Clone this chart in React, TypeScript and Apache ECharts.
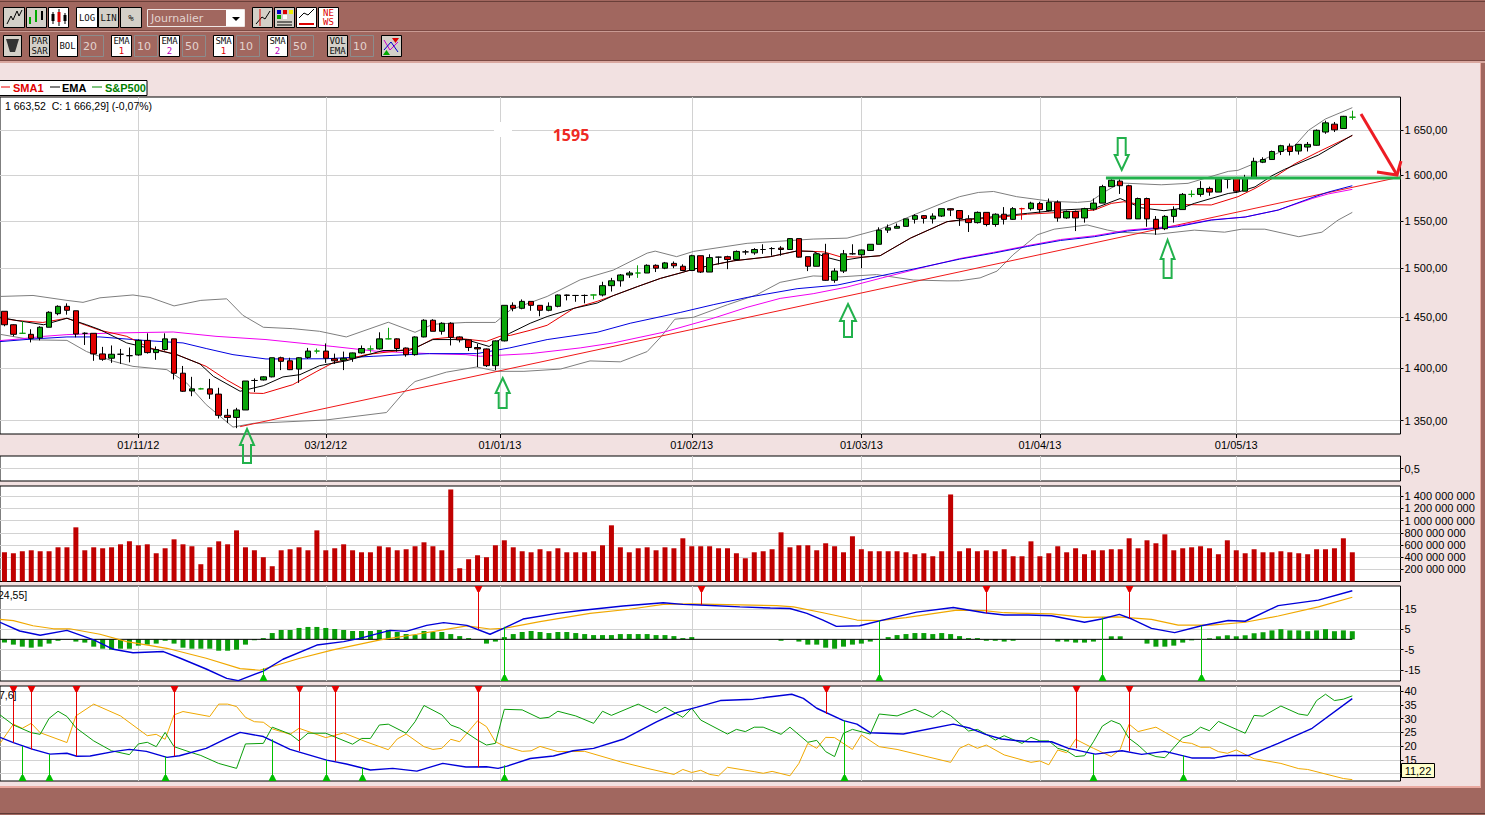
import React, { useEffect, useRef } from "react";
import * as echarts from "echarts";

type Pt = [number, number];

// ---------- candles (index 0 = first visible session) ----------
const opens = [
1456,1442.5,1434,1433,1429.5,1440,1453.6,1461,1456.5,1434,
1434,1413.7,1409.5,1413.4,1412,1412.7,1427,1415,1418,1428.5,
1395,1378,1380,1380,1375,1355,1353,1360,1388,1388.5,
1391.5,1410,1407,1399,1410.3,1416.5,1416.5,1409,1407.5,1409.5,
1414.7,1418.6,1418.6,1428.5,1428.5,1419.5,1413,1430.4,1447,1436,
1444,1430.4,1427.5,1420,1418.6,1402.3,1426.5,1462,1459,1466,
1462,1457,1461,1472.5,1472,1472,1472.5,1472.5,1482,1487,
1493,1495,1495,1503,1500,1505,1502,1497.6,1513,1496,
1511.5,1512,1509,1517,1516,1519.5,1520.5,1521,1519.5,1531,
1512,1502,1515,1487.5,1497,1515,1514,1518.5,1525,1540,
1542,1544,1551.5,1555.5,1552,1555,1563,1561,1552,1548,
1559,1546,1557,1551.5,1563,1563,1568.5,1561,1570,1553,
1560,1553,1562.5,1569,1587,1593,1588,1552,1574,1551.5,
1541.5,1554.7,1562,1578.5,1578.5,1585,1581,1595,1596,1582,
1596,1614,1617,1626,1632,1626.5,1631,1633,1648,1657,
1652,1665];
const closes = [
1442.5,1433,1434,1429,1440,1455,1461,1457,1433.3,1434,
1413.7,1408.5,1413.4,1413.4,1412,1427,1415,1418,1428.5,1394.9,
1377.7,1380,1380,1375,1355,1353,1360,1387.5,1388,1391.5,
1410,1406.5,1398.4,1410,1416.5,1416.5,1409.5,1407,1409.5,1414.7,
1419,1418.6,1428.5,1428.5,1419,1413,1430.4,1447,1436,1444,
1430,1427.5,1420,1418.6,1402.3,1426.5,1462,1459,1466,1462,
1457,1461,1472.5,1472,1472,1472,1472.5,1482,1487,1493,
1495,1495,1503,1500,1505.5,1502.5,1497.6,1513,1496,1511,
1511.5,1509,1517.5,1517,1519.5,1519.5,1520.5,1519.5,1531,1511.5,
1502,1515,1487.5,1497,1515,1515,1519,1525,1540,1542.5,
1544,1552,1555.5,1552.5,1555,1563,1561.5,1552.5,1548,1559,
1546,1557,1551.5,1563,1563,1569,1562,1570,1553,1560,
1553,1563,1569,1587,1594,1588,1552,1574,1552,1541.5,
1554.7,1562,1578.5,1578.5,1585,1581,1595.5,1595,1582,1596,
1615,1617,1626,1632.5,1626,1634,1634,1650,1658.5,1650.5,
1666,1665];
const highs = [
1456,1443,1446,1438,1441,1456,1462,1464,1456.5,1435,
1434,1420.6,1422,1418.6,1420,1428,1434,1421,1434,1428.5,
1402,1391.5,1381,1389.5,1381,1361,1362,1387.5,1390,1392,
1410,1411,1410,1410.5,1419.6,1419,1424,1414,1416,1415,
1422,1422,1435,1439.5,1429,1420,1431,1448,1448,1445,
1445,1431,1428,1423.6,1419,1427,1462,1465,1468,1466,
1462,1465,1473,1473,1472.5,1473,1473,1486,1490,1494,
1497,1503,1504,1504,1506.5,1507,1504,1514,1513,1514.5,
1512,1513,1518.5,1519,1521,1525,1522,1523,1531.5,1531,
1512,1516,1525.5,1500,1519,1525,1519.5,1525,1543,1546,
1547,1552,1557,1556,1558,1563,1563.5,1561,1556,1560,
1559,1558,1564.7,1564.7,1564,1570.5,1570.5,1574,1572,1561,
1561,1564,1574,1589,1595,1595,1589,1575,1575,1555,
1556,1565.5,1580,1583,1593,1587,1596,1596,1596,1600,
1619,1619.5,1627,1633.5,1635,1634.5,1636.7,1651,1661,1659.5,
1666.5,1672.5];
const lows = [
1441,1431,1434,1425,1427,1440,1452,1452.6,1430,1422.5,
1407,1407,1405,1404,1405.5,1412,1414,1408,1417,1389,
1377,1373,1379.5,1370.4,1352,1347.7,1343,1360,1377,1388,
1391,1398,1398,1385.7,1409,1414,1405,1404,1398,1406,
1414,1415,1418,1428,1416,1411,1412,1430,1436,1432.7,
1422,1425,1416.5,1401,1401,1398,1426,1456,1458,1456.5,
1451,1456,1460,1467,1465.6,1464,1468,1471,1476,1481,
1490,1490,1495,1496,1499,1500,1497,1497,1495,1496,
1504,1499,1508,1514,1514,1515,1513,1513,1519,1511,
1497,1502,1487,1485,1495,1514,1500,1518,1525,1537,
1542,1544,1547,1547,1547,1554,1555,1544.5,1538,1547,
1544,1543.6,1546,1551,1551,1561,1558.6,1560,1549,1552,
1539,1548,1561,1569,1587,1579,1552,1552,1543.6,1535,
1540,1548,1562,1575.5,1576,1577,1581,1585,1580,1582,
1596,1613,1617,1622,1621.5,1622.5,1626,1632.5,1646,1648,
1652,1662];
const greenDojis = [2, 22, 35, 41, 43, 66, 71, 133, 151];
const redDojis = [114];

// ---------- price overlays: [session index, price] ----------
const bollUpper: Pt[] = [[-0.5,1471],[3.2,1472],[7,1467],[8.8,1465],[10.7,1469.6],[14.4,1472.5],[16.3,1470],[19,1461.4],[22,1467],[24.9,1468.6],[26.7,1452],[29,1440],[32.3,1438.6],[35.3,1436],[38.3,1430.4],[43,1445],[46,1435],[48,1443],[51.7,1444.8],[55,1444.8],[56.7,1457.5],[60.8,1471],[64.5,1488],[68.2,1498],[72,1515.7],[72.9,1517.8],[75.3,1512],[77.2,1517.5],[83.2,1526],[90.6,1530.5],[94.4,1531.5],[98.1,1541],[101.8,1556],[105.6,1571],[107,1576],[109.1,1580.6],[110.8,1581.7],[113.4,1576],[117.2,1571],[120.2,1569.8],[121.7,1571],[123.2,1581],[125,1591],[129.6,1589],[132.6,1590.6],[137.1,1603.8],[138.2,1605],[140,1612.4],[144.6,1633],[146.1,1650],[148,1663],[151,1676]];
const bollLower: Pt[] = [[-0.5,1433],[3.2,1427.5],[7,1427],[9.2,1416],[12.2,1406.5],[14.4,1401.6],[18.2,1398.4],[20.4,1385.7],[22.6,1365],[25.6,1344],[27.9,1347.5],[36,1350.6],[42.8,1357.6],[45.2,1381],[46,1387],[49.5,1396],[52.9,1401],[55.2,1396.8],[58.2,1396.8],[62.3,1399],[65.6,1406.9],[69,1406],[72,1416],[73.6,1431],[75.1,1448],[77.2,1450],[81,1462.6],[84.3,1472.8],[86.9,1485.4],[90.6,1492],[93.6,1491],[97.7,1493.4],[101.8,1487.8],[105.6,1486.9],[107,1487],[109.3,1490],[111.2,1497],[113,1514],[115.7,1535],[117.6,1541],[121.3,1545.5],[123.6,1540],[125,1537.8],[129.2,1535.7],[133.3,1540],[136.7,1537.8],[138.6,1541],[141.2,1541],[145,1533],[147.6,1537.8],[149.4,1550.7],[151,1559]];
const sma1: Pt[] = [[-0.5,1449],[1.4,1446.7],[4.3,1444.8],[7,1449],[8.5,1444],[10.7,1437],[13.7,1431],[16.3,1419.6],[19.3,1413],[22.6,1401.6],[24.9,1388.5],[27.5,1376],[29,1375.6],[32.3,1384],[35,1396.8],[36.8,1405],[40.5,1413],[44.3,1417],[46.1,1419.6],[48,1428.4],[49.9,1430],[54,1426],[55.5,1431],[56.7,1432],[58.9,1437],[60.8,1442],[63.8,1459],[66.4,1466],[68.2,1471.8],[70.9,1481],[73.5,1489.5],[75.7,1495],[77.2,1499],[79.4,1503.5],[81.7,1507.7],[85.8,1512],[88.8,1518],[90.6,1517.5],[91.8,1517],[93.6,1512],[96.2,1511.5],[98.1,1513],[101.5,1531.5],[105.6,1549],[107,1550.7],[110.8,1553],[114.6,1557],[118.3,1559],[122.1,1561.5],[124,1568.7],[125.4,1570.5],[127.3,1567.6],[131.1,1567.6],[135.2,1567],[138.2,1576],[140.1,1585],[142,1595.7],[144.6,1612.4],[147.2,1625.6],[151,1644]];
const ema1: Pt[] = [[-0.5,1450],[1.4,1446.7],[4.4,1442.5],[7,1449],[9.2,1442.5],[10.7,1437.6],[13.7,1424.5],[16.3,1419],[19.3,1413],[21.9,1404],[23.4,1392],[26.4,1377.7],[29,1383],[31.2,1391.4],[33.1,1393.6],[35.3,1402.3],[38.3,1407],[42.4,1417],[45.4,1417.3],[48,1427.8],[51.7,1427.8],[54.3,1421],[56.6,1434],[58.9,1444],[60.8,1450.7],[63.8,1459],[66.4,1464.3],[68.2,1471.8],[70.9,1481],[73.5,1489.5],[75.7,1495],[77.2,1499],[79.4,1503.5],[81.7,1507.7],[85.8,1512],[88.8,1518],[90.6,1517.5],[91.8,1512],[93.6,1507.7],[96.2,1511.5],[98.1,1513],[101.5,1531.5],[105.6,1549],[107,1550.7],[110.8,1554.3],[114.6,1558],[118.3,1561.5],[122.1,1563.3],[125,1574],[127.3,1564],[129.9,1560.8],[131.8,1563.3],[133.3,1568.7],[137.1,1579.5],[138.2,1581],[140.1,1586.7],[142,1599],[143.4,1606],[147.2,1622],[151,1644.4]];
const ema2: Pt[] = [[-0.5,1425.8],[3.2,1428.4],[7,1430.4],[10.7,1430.4],[15.9,1426.8],[20,1424.5],[22.6,1419],[25.6,1413],[29.3,1408.8],[36,1409],[41.3,1411.4],[47.6,1414],[52.9,1414],[56.6,1419.6],[60.8,1427.8],[66.4,1435],[70.1,1444],[75.7,1454.8],[79.4,1462.6],[83.2,1470],[88.8,1478.9],[93.3,1482.6],[98.1,1492],[101.8,1499],[107,1509.4],[110.8,1515.7],[114.6,1522.7],[118.3,1529],[122.1,1533],[125.8,1539],[128.8,1541.5],[131.4,1543.6],[135.2,1550.7],[139,1554],[142.7,1561.5],[146.5,1575],[148.3,1581],[151,1588]];
const sma2: Pt[] = [[-0.5,1426.8],[1.7,1428.4],[4.4,1431],[7,1432.7],[12.2,1434.3],[18.9,1435.3],[23.7,1431],[29.3,1427.8],[36.8,1421],[41.7,1416.3],[47.6,1414],[51.7,1413],[53.3,1411.4],[58.9,1414],[64.5,1419.6],[68.2,1424.5],[73.8,1435],[79.4,1449],[83.2,1460],[86.9,1469],[90.6,1473.8],[94.4,1480.6],[98.1,1489.5],[103.3,1501.7],[107,1510],[110.8,1516.5],[114.6,1523.5],[118.3,1530],[122.1,1534],[125.8,1540],[128.8,1542.4],[131.4,1544.6],[135.2,1551],[139,1554],[142.7,1561.5],[146.5,1574],[148.3,1579],[151,1584]];
const trendLine: Pt[] = [[26.4,1344.4],[156.4,1597.6]];
const resistanceLine: Pt[] = [[123.4,1596.5],[156.4,1596.5]];

// ---------- volume (millions of shares) ----------
const volumesM = [
480,464,497,513,497,497,562,562,890,513,
562,546,562,611,660,595,611,464,546,693,
611,579,284,562,660,611,840,562,513,399,
251,513,530,562,513,840,513,546,611,513,
480,480,579,562,513,530,579,644,579,513,
1512,218,366,431,399,595,677,562,497,480,
530,497,546,480,480,480,497,595,923,562,
480,546,562,513,562,546,710,579,579,579,
546,546,464,382,480,497,530,808,562,595,
595,513,628,579,480,743,530,497,497,497,
497,480,448,464,415,497,1430,497,546,497,
513,497,530,415,415,660,415,464,579,480,
546,448,513,513,530,530,710,546,677,628,
775,513,546,562,579,546,448,677,513,464,
530,480,480,497,480,464,448,530,530,546,
710,480];

// ---------- MACD ----------
const macdHist = [
-1.6,-2.6,-3.6,-4.1,-3.6,-2.1,-0.7,0,-1.1,-1.6,
-3.6,-4.6,-5.1,-4.6,-4.6,-3.1,-2.6,-2.1,-0.7,-2.1,
-4.1,-4.6,-4.6,-4.6,-5.6,-5.6,-5.1,-2.6,-0.5,0.6,
3.1,4.6,4.6,5.6,6.1,6.1,5.6,5.1,4.6,4.1,
4.1,4.1,4.6,4.6,3.6,2.6,2.1,4.1,3.6,3.6,
2.6,1.6,0.6,0,-2.1,-1.1,1.1,2.6,3.6,4.1,
3.6,3.1,3.6,3.6,3.1,2.6,2.1,2.1,2.1,2.6,
2.6,2.6,2.6,2.1,2.1,1.6,0.6,1.1,0,0,
0,0,0,0,0,0,0,-0.7,0,-1.1,
-2.6,-2.6,-4.1,-4.6,-3.6,-2.6,-2.1,-1.1,0,1.1,
2.1,2.6,3.1,3.1,2.6,3.1,2.6,1.6,0.6,0.6,
-0.7,-0.7,-1.1,-0.7,0,0,0,0,-1.1,-1.1,
-1.6,-1.6,-1.1,0,1.5,1.5,0,0,-2.1,-3.6,
-3.6,-3.1,-1.6,-0.5,0,0.5,1.5,2,1.5,2,
3,3.5,4.4,5,4.4,4.4,4,4.4,5,4,
4.4,4];
const macdLine: Pt[] = [[-0.5,8.4],[1.7,4.1],[4,2],[7,4.4],[10,-0.3],[12.2,-4.9],[14.4,-6.6],[17.8,-6],[19.7,-9.3],[22.6,-14.6],[24.9,-19.2],[26.2,-20.3],[29,-15.6],[31.2,-9.8],[35,-2.8],[38,-1.1],[39.8,0.5],[43.2,4.4],[45,3.9],[47.3,6.9],[49.2,8.2],[51.8,6.9],[54.4,2.5],[55.9,5.4],[58.1,10],[61.9,12.8],[64.8,14.3],[69.3,16.4],[73.8,18],[76,17.2],[77.9,16.9],[82.4,16],[85.8,15.4],[88,15.2],[89.9,12.8],[91.7,9.5],[93.2,6.4],[95.8,6.7],[99.2,10.3],[102.2,13.4],[106.3,15.7],[109.8,13.1],[112,12],[114.7,12],[117.3,11.6],[121,8.4],[122.9,10],[124.9,12.3],[126.3,10],[128.5,5.4],[131.1,3.3],[134.1,6.7],[137.1,9.3],[139,8.9],[142.7,16.6],[147.2,19.3],[151,23.9]];
const macdSignal: Pt[] = [[-0.5,9.8],[1,9.2],[3.2,6.7],[5.5,5.2],[7.3,5.2],[10.7,2.5],[13.7,-1.1],[18.2,-4.4],[22.6,-9.3],[26.4,-14.4],[28.6,-15.2],[33.1,-9.3],[36.8,-5.2],[42.1,-0.3],[46.2,2.5],[51.8,6.6],[54.4,5.1],[55.9,5.4],[60,8.7],[65.6,12.8],[70,14.8],[73.8,17.2],[76.8,17.5],[82.4,17],[86.5,16.6],[88.4,16],[91.7,13.1],[95.5,9.5],[98,9.2],[101,10.7],[106.7,14.4],[109.8,14.1],[112,13.1],[117.3,12.5],[121,10.8],[124.7,11.1],[128.5,9.8],[131.5,7],[135.2,7],[139,8.4],[142.7,11.5],[147.2,16],[151,20.7]];
const macdZero: Pt[] = [[-0.5,0],[151,0]];
const macdSellPins: Pt[] = [[53,5],[78,16.9],[110,12.8],[126,10.3]];
const macdBuyPins: Pt[] = [[29,-14.3],[56,6.2],[98,9.2],[123,10.7],[134,6.7]];

// ---------- ADX / DI ----------
const adxLine: Pt[] = [[-0.5,23.2],[1,21.3],[3.2,18.8],[5.1,17.1],[7,17.4],[8.1,16.3],[9.6,16.4],[12.2,18],[14,18.8],[15.9,18.1],[18.2,15.9],[19.6,16.5],[22.6,19.2],[24.9,22.8],[26.4,25],[29,23.5],[32,18.8],[36.1,14.9],[38.3,13.5],[41,11.3],[43.5,11.9],[46.2,10.9],[49.1,13.7],[51.7,12.4],[54,12.5],[55.3,11.9],[56.3,12.7],[58.9,15.5],[61.5,16.4],[63.7,18.3],[66,19.2],[69.3,22.5],[73.1,28.9],[75.3,32.2],[77.6,34.2],[80.2,36.6],[83.9,37.1],[85.4,37.8],[88.2,38.9],[89.5,37.4],[91,33.8],[94,29.3],[95.5,28],[97,24.9],[100.7,24.4],[106.3,28],[108.2,26.5],[109.9,24.3],[111.7,22.6],[114.7,21.6],[117.3,21.6],[119.2,19.2],[122.2,17.1],[125.2,18.3],[127.4,17],[130,18.1],[133,15.7],[135.6,15.7],[137.1,16.6],[139.4,16.6],[142.7,21],[146.5,26.5],[151,37.3]];
const diPlus: Pt[] = [[-0.5,31.4],[1,27.7],[3,24.9],[4,24.3],[5,30.1],[6,32.7],[7,30.8],[8,26.7],[10,21.9],[12,18.3],[14,16.9],[15,20.8],[16,21.4],[17,19.8],[18,25],[19,19.8],[21,17.6],[22,16.6],[24,13.7],[26,11.9],[27,20.8],[29,21],[30,26.9],[32,24.4],[33,21.9],[34,24.7],[36,24.7],[39,20.7],[40,22.8],[41,22.8],[42,27.7],[43,28],[45,24.7],[46,28.9],[47,34.8],[49,31.4],[50,27.7],[51,26.5],[53,22.2],[54,20.4],[55,21],[56,33.4],[58,33.2],[60,30.1],[61,30.5],[62,32.7],[64,31],[66,28.3],[67,32.7],[68,31.2],[71,35.3],[73,32.2],[74,34.2],[76,30.5],[77,33.8],[78,29.5],[81,24.4],[82,26.1],[83,25.3],[84,26.9],[85,26.9],[87,24.3],[88,26.9],[90,21.4],[91,22.1],[92,18],[93,16.2],[94,24.7],[95,26.1],[97,24.4],[98,31.7],[100,31],[102,33.4],[104,30.5],[105,32.9],[106,31.1],[108,25.5],[109,26.1],[110,24.3],[111,22.2],[112,23.8],[114,21],[115,23.2],[116,21.9],[117,21.9],[118,19.2],[119,18.3],[120,16.2],[121,16.5],[122,21.6],[123,27.3],[124,29.3],[125,28],[126,22.8],[127,20.4],[128,17.4],[129,16.2],[130,15.8],[132,23.1],[133,24.3],[134,26.9],[135,25.6],[136,29],[139,24.7],[140,31.2],[141,30.9],[143,34.6],[145,31.7],[146,31.2],[147,36.6],[148,38.9],[149,36.6],[150,37.1],[151,38.3]];
const diMinus: Pt[] = [[-0.5,21],[1,28],[2,26.5],[3,28.3],[4,24.9],[7,21.3],[8,31],[10,35.3],[13,31],[16,23.8],[17,24.3],[18,22.5],[19,31.4],[20,32.6],[23,30.8],[24,35.3],[25,35.3],[26,34.4],[27,30.5],[28,28.9],[29,28.7],[30,26.3],[32,24.3],[33,26.5],[36,23.1],[38,24.8],[40.5,21.6],[43,18.7],[44,22.6],[45,24.4],[47,19.8],[48,18.8],[49,19.2],[50,22.5],[51,21.6],[53,29.2],[54,27.1],[55,21.6],[56,20],[58,18.1],[59,18.3],[60,19.9],[62,18],[65,18.1],[69,14.3],[72,11.9],[75,9.7],[76,11.5],[77,10.4],[78,11.2],[79,9.7],[80,9.2],[81,12.3],[84,10.7],[85,10.1],[86,10.8],[88,9.2],[89,13.7],[90,21],[91,19.2],[92,23.2],[93,23.1],[95,18.8],[96,24.1],[98,19.8],[100,18.8],[106,14.1],[107,19.2],[108,20.7],[109,19.2],[110,20.4],[112,16.8],[115,14.1],[116,14.6],[117,13.2],[118,18.6],[119,17.6],[120,22.5],[122,19.2],[124,16.2],[125,18.8],[126,28],[127,25.3],[129,26.9],[132,21.4],[133,21],[134,19.6],[135,19.6],[136,18],[137,17.4],[138,18.6],[140,15.4],[143,13.7],[145,11.8],[146,11.5],[150,8.2],[151,7.8]];
const adxSellPins: Pt[] = [[1,21.3],[3,18.8],[8,16.3],[19,16.3],[33,18.2],[37,14.5],[53,12.3],[92,31.7],[120,19.2],[126,18.1]];
const adxBuyPins: Pt[] = [[2,20],[5,17.1],[18,16.2],[30,22.5],[36,14.9],[40,12.3],[56,13],[94,29.3],[122,17.1],[132,16.6]];

// ---------- axes ----------
const dateTicks = [15, 36, 55.5, 77, 96, 116, 138];
const dateLabels = ["01/11/12", "03/12/12", "01/01/13", "01/02/13", "01/03/13", "01/04/13", "01/05/13"];
const priceTicks = [1350, 1400, 1450, 1500, 1550, 1600, 1650];
const volumeTicks = [200, 400, 600, 800, 1000, 1200, 1400];
const macdTicks = [-15, -5, 5, 15];
const adxTicks = [10, 15, 20, 25, 30, 35, 40];

const FONT = '"Liberation Sans", Arial, sans-serif';
const BROWN = "#a1675f";
const PINK = "#f2e1e1";
const GRIDC = "#d2d2d2";
const ARROW_GREEN = "#22b14c";
const lg = (v: number) => Math.log10(v);
const spaced = (n: number) => String(n).replace(/\B(?=(\d{3})+(?!\d))/g, " ");

function txt(x: number, y: number, text: string, fill = "#000", font = `11px ${FONT}`, align = "left", z = 20) {
  return { type: "text", x, y, z, silent: true, style: { text, fill, font, textAlign: align, align, textVerticalAlign: "middle", verticalAlign: "middle" } };
}
function rect(x: number, y: number, w: number, h: number, fill: string, stroke?: string, z = 10) {
  return { type: "rect", z, silent: true, shape: { x, y, width: w, height: h }, style: { fill, stroke: stroke || "none", lineWidth: 1 } };
}
function poly(points: number[][], stroke: string, lw = 1, z = 21) {
  return { type: "polyline", z, silent: true, shape: { points }, style: { stroke, lineWidth: lw, fill: "none" } };
}
function btn(x: number, y: number, w: number, h: number, lines: string[], fill: string, colors?: string[]) {
  const MONO = `9px "DejaVu Sans Mono", monospace`;
  const out: any[] = [rect(x + 0.5, y + 0.5, w, h, fill, "#000", 12)];
  const step = 9.5;
  const y0 = y + h / 2 + 0.5 - ((lines.length - 1) * step) / 2;
  lines.forEach((l, i) => out.push(txt(x + w / 2 + 0.5, y0 + i * step, l, colors?.[i] || "#111", MONO, "center")));
  return out;
}
function field(x: number, y: number, w: number, h: number, t: string) {
  return [
    rect(x + 0.5, y + 0.5, w, h, BROWN, "#8c8c8c", 12),
    txt(x + 3, y + h / 2 + 1, t, "#e3d3cf", `11px "DejaVu Sans", sans-serif`),
  ];
}
function upArrow(cx: number, tip: number, wide: number, bottom: number, hw = 8, sw = 4) {
  return {
    type: "polygon", z: 40, silent: true,
    shape: { points: [[cx, tip], [cx + hw, wide], [cx + sw, wide], [cx + sw, bottom], [cx - sw, bottom], [cx - sw, wide], [cx - hw, wide]] },
    style: { fill: "none", stroke: ARROW_GREEN, lineWidth: 2 },
  };
}

function chromeElements() {
  const els: any[] = [
    rect(0, 0, 1485, 62, BROWN, undefined, 1),
    rect(0, 1, 1485, 1, "#6a3f39", undefined, 2),
    rect(0, 30, 1485, 1, "#7d4a44", undefined, 2),
    rect(0, 31, 1485, 1, "#c99a93", undefined, 2),
    rect(0, 60, 1485, 1, "#7d4a44", undefined, 2),
    rect(0, 61, 1485, 2, "#d9a79f", undefined, 2),
    rect(0, 788, 1485, 27, BROWN, undefined, 1),
    rect(0, 786, 1481, 2, "#e9a9a0", undefined, 2),
    rect(0, 813, 1485, 1, "#5f3a35", undefined, 2),
    rect(1481, 62, 4, 730, BROWN, undefined, 1),
    rect(1480, 63, 1, 725, "#e9a9a0", undefined, 2),
  ];
  const G = "#d4d0c8";
  const sq = (x: number, y: number, w: number, h: number, c: string) => rect(x, y, w, h, c, undefined, 21);
  // first toolbar row
  els.push(...btn(3, 7, 21, 20, [""], G));
  els.push(poly([[7, 24], [11, 16], [13, 20], [17, 11], [19, 16], [22, 10]], "#000", 1));
  els.push(...btn(26, 7, 20, 20, [""], G));
  els.push(poly([[30, 24], [30, 17]], "#0a0", 2), poly([[36, 22], [36, 10]], "#0a0", 2), poly([[42, 20], [42, 11]], "#000", 2));
  els.push(...btn(48, 7, 20, 20, [""], "#fff"));
  els.push(poly([[53, 12], [53, 24]], "#000", 1), sq(51.5, 14, 3, 7, "#000"), poly([[59, 9], [59, 26]], "#000", 1), sq(57.5, 12, 3, 10, "#d00"), poly([[65, 13], [65, 24]], "#000", 1), sq(63.5, 15, 3, 6, "#000"));
  els.push(...btn(76, 7, 21, 20, ["LOG"], "#fff"));
  els.push(...btn(98, 7, 20, 20, ["LIN"], G));
  els.push(...btn(120, 7, 21, 20, ["%"], G));
  els.push(rect(147.5, 9.5, 97, 17, BROWN, "#efe6e4", 12), rect(226, 10, 18, 16, "#fff", undefined, 13));
  els.push({ type: "polygon", z: 21, silent: true, shape: { points: [[232, 17], [240, 17], [236, 21]] }, style: { fill: "#000" } });
  els.push(txt(151, 18, "Journalier", "#e3d3cf", `11px "DejaVu Sans", sans-serif`));
  els.push(...btn(252, 7, 20, 20, [""], G));
  els.push(poly([[256, 24], [262, 17], [265, 19], [270, 11]], "#000", 1), poly([[260, 9], [260, 26]], "#d00", 1));
  els.push(...btn(274, 7, 20, 20, [""], G));
  els.push(sq(277, 10, 4, 4, "#00c"), sq(283, 10, 4, 4, "#d00"), sq(289, 10, 4, 4, "#ee0"), sq(277, 15, 4, 4, "#0a0"), sq(283, 15, 4, 4, "#fff"));
  els.push(poly([[277, 22], [292, 22]], "#000", 1), poly([[277, 25], [292, 25]], "#000", 1));
  els.push(...btn(296, 7, 20, 20, [""], "#fff"));
  els.push(poly([[299, 18], [304, 13], [308, 15], [314, 9]], "#000", 1), poly([[299, 24], [314, 24]], "#d00", 2));
  els.push(...btn(318, 7, 20, 20, ["NE", "WS"], "#fff", ["#d00", "#d00"]));
  // second toolbar row
  els.push(...btn(3, 35, 18, 21, [""], G));
  els.push({ type: "polygon", z: 21, silent: true, shape: { points: [[6, 39], [19, 39], [15, 52], [10, 52]] }, style: { fill: "#333" } });
  els.push(...btn(29, 35, 20, 21, ["PAR", "SAR"], G));
  els.push(...btn(57, 35, 20, 21, ["BOL"], "#fff"));
  els.push(...field(80, 35, 23, 21, "20"));
  els.push(...btn(111, 35, 20, 21, ["EMA", "1"], "#fff", ["#111", "#d00"]));
  els.push(...field(134, 35, 23, 21, "10"));
  els.push(...btn(159, 35, 20, 21, ["EMA", "2"], "#fff", ["#111", "#b0b"]));
  els.push(...field(182, 35, 23, 21, "50"));
  els.push(...btn(213, 35, 20, 21, ["SMA", "1"], "#fff", ["#111", "#d00"]));
  els.push(...field(236, 35, 23, 21, "10"));
  els.push(...btn(267, 35, 20, 21, ["SMA", "2"], "#fff", ["#111", "#b0b"]));
  els.push(...field(290, 35, 23, 21, "50"));
  els.push(...btn(327, 35, 20, 21, ["VOL", "EMA"], G));
  els.push(...field(350, 35, 23, 21, "10"));
  els.push(...btn(381, 35, 20, 21, [""], G));
  els.push(poly([[384, 40], [390, 50], [398, 42]], "#c0c", 1), poly([[384, 50], [391, 42], [398, 52]], "#00c", 1));
  els.push({ type: "polygon", z: 21, silent: true, shape: { points: [[392, 38], [399, 38], [395.5, 43]] }, style: { fill: "#d00" } });
  els.push({ type: "polygon", z: 21, silent: true, shape: { points: [[383, 55], [390, 55], [386.5, 50]] }, style: { fill: "#0a0" } });
  // legend tab
  els.push(rect(-1, 80.5, 148, 15, "#fff", "#000", 10));
  const BOLD = `bold 11px ${FONT}`;
  els.push(poly([[1, 87], [10, 87]], "#e00", 1), txt(13, 88, "SMA1", "#e00000", BOLD));
  els.push(poly([[50, 87], [60, 87]], "#000", 1), txt(62, 88, "EMA", "#000", BOLD));
  els.push(poly([[92, 87], [102, 87]], "#080", 1), txt(105, 88, "S&P500", "#008000", BOLD));
  // pane captions
  els.push(txt(5, 106, "1 663,52  C: 1 666,29] (-0,07%)", "#000", `10.5px ${FONT}`));
  els.push(txt(-2, 595, "24,55]", "#000", `10.5px ${FONT}`));
  els.push(txt(-1, 695, "7,6]", "#000", `10.5px ${FONT}`));
  // hand-drawn annotations
  els.push(rect(494, 122, 18, 15, "#fff", undefined, 30));
  els.push(txt(571, 135, "1595", "#ee2a24", `bold 16px "Open Sans", ${FONT}`, "center", 41));
  els.push(upArrow(247, 429, 445, 463, 7, 4));
  els.push(upArrow(502.7, 378, 393, 408, 7, 4));
  els.push(upArrow(848, 304, 321, 337, 8, 4));
  els.push(upArrow(1167.6, 240, 259, 278, 7, 4));
  els.push(upArrow(1121.7, 170, 155, 138, 7, 4));
  els.push(poly([[1361, 114], [1397, 175]], "#ed1c24", 3, 42));
  els.push(poly([[1377, 172], [1397, 175], [1401, 161]], "#ed1c24", 3, 42));
  // value tooltip on the ADX axis
  els.push(rect(1401.5, 763.5, 33, 14, "#ffffcc", "#000", 45));
  els.push(txt(1418, 771, "11,22", "#000", `11px ${FONT}`, "center", 46));
  return els;
}

function xAxisFor(gridIndex: number, withLabels = false) {
  return {
    type: "value", gridIndex, min: -0.5, max: 156.4, position: "bottom",
    axisLine: { show: false, onZero: false },
    axisTick: { show: withLabels, length: 4, lineStyle: { color: "#000" }, customValues: dateTicks },
    axisLabel: {
      show: withLabels, customValues: dateTicks, color: "#000", fontSize: 11, fontFamily: FONT, margin: 5,
      formatter: (v: number) => dateLabels[dateTicks.indexOf(v)] ?? "",
    },
    splitLine: { show: true, lineStyle: { color: GRIDC, width: 1 } },
  };
}
function yAxisFor(gridIndex: number, min: number, max: number, ticks: number[], fmt: (v: number) => string) {
  return {
    type: "value", gridIndex, min, max, position: "right",
    axisLine: { show: false, onZero: false },
    axisTick: { show: true, length: 3, lineStyle: { color: "#000" }, customValues: ticks },
    axisLabel: { show: true, customValues: ticks, color: "#000", fontSize: 11, fontFamily: FONT, margin: 4, formatter: fmt, hideOverlap: false, showMinLabel: true, showMaxLabel: true },
    splitLine: { show: true, lineStyle: { color: GRIDC, width: 1 } },
  };
}
function lineS(name: string, data: Pt[], color: string, width: number, grid: number, z = 2, log = false) {
  return {
    type: "line", name, xAxisIndex: grid, yAxisIndex: grid, z, showSymbol: false, symbol: "none", silent: true, smooth: false,
    data: log ? data.map(([i, p]) => [i, lg(p)]) : data,
    lineStyle: { color, width },
  };
}
function pins(name: string, data: Pt[], grid: number, up: boolean) {
  const color = up ? "#00c000" : "#e60000";
  return {
    type: "custom", name, xAxisIndex: grid, yAxisIndex: grid, z: 6, silent: true,
    encode: { x: 0, y: 1 }, data,
    renderItem: (params: any, api: any) => {
      const p = api.coord([api.value(0), api.value(1)]);
      const cs = params.coordSys;
      const edge = up ? cs.y + cs.height : cs.y;
      const dir = up ? -1 : 1;
      const x = Math.round(p[0]) + 0.5;
      return {
        type: "group",
        children: [
          { type: "line", shape: { x1: x, y1: edge, x2: x, y2: p[1] }, style: { stroke: color, lineWidth: 1 } },
          { type: "polygon", shape: { points: [[x - 4, edge], [x + 4, edge], [x + 1, edge + dir * 6], [x - 1, edge + dir * 6]] }, style: { fill: color } },
        ],
      };
    },
  };
}

function buildOption() {
  const candleData = opens.map((o, i) => {
    const value = [i, lg(o), lg(closes[i]), lg(lows[i]), lg(highs[i])];
    if (greenDojis.includes(i)) return { value, itemStyle: { borderColorDoji: "#0a9e0a" } };
    if (redDojis.includes(i)) return { value, itemStyle: { borderColorDoji: "#e00000" } };
    return { value };
  });
  const grids = [
    { top: 97, height: 337 },
    { top: 456, height: 25 },
    { top: 486, height: 95.5 },
    { top: 586, height: 95 },
    { top: 686, height: 95 },
  ].map((g) => ({ ...g, left: 0, width: 1400.5, show: true, backgroundColor: "#fff", borderColor: "#000", borderWidth: 1, containLabel: false }));

  const fmtPrice = (v: number) => spaced(Math.round(Math.pow(10, v))) + ",00";
  return {
    animation: false,
    backgroundColor: PINK,
    textStyle: { fontFamily: FONT },
    tooltip: { show: false },
    legend: { show: false },
    grid: grids,
    xAxis: [xAxisFor(0, true), xAxisFor(1), xAxisFor(2), xAxisFor(3), xAxisFor(4)],
    yAxis: [
      yAxisFor(0, lg(1337.6), lg(1688.4), priceTicks.map(lg), fmtPrice),
      yAxisFor(1, 0, 1, [0.5], () => "0,5"),
      yAxisFor(2, 0, 1569, volumeTicks, (v: number) => spaced(v * 1000000)),
      yAxisFor(3, -20.5, 26.25, macdTicks, (v: number) => String(v)),
      yAxisFor(4, 7.3, 41.9, adxTicks, (v: number) => (v === 10 ? "" : String(v))),
    ],
    series: [
      lineS("Boll+", bollUpper, "#7e7e7e", 1, 0, 2, true),
      lineS("Boll-", bollLower, "#7e7e7e", 1, 0, 2, true),
      lineS("Trend", trendLine, "#f01818", 1, 0, 2, true),
      lineS("SMA2", sma2, "#f000f0", 1, 0, 2, true),
      lineS("EMA2", ema2, "#0000e0", 1, 0, 2, true),
      lineS("SMA1", sma1, "#e80000", 1, 0, 2, true),
      lineS("EMA", ema1, "#000000", 1, 0, 2, true),
      {
        type: "candlestick", name: "S&P500", xAxisIndex: 0, yAxisIndex: 0, z: 4, silent: true, barWidth: 6,
        encode: { x: 0, y: [1, 2, 3, 4] },
        data: candleData,
        itemStyle: { color: "#0aa60a", color0: "#e00000", borderColor: "#000", borderColor0: "#000", borderColorDoji: "#000", borderWidth: 1 },
      },
      lineS("Support", resistanceLine, ARROW_GREEN, 3, 0, 5, true),

      {
        type: "bar", name: "Volume", xAxisIndex: 2, yAxisIndex: 2, barWidth: 5, silent: true, z: 3,
        itemStyle: { color: "#c00000" }, data: volumesM.map((v, i) => [i, v]),
      },

      {
        type: "bar", name: "MACD hist", xAxisIndex: 3, yAxisIndex: 3, barWidth: 5, silent: true, z: 2,
        itemStyle: { color: "#0a9e0a" }, data: macdHist.map((v, i) => [i, v]),
      },
      lineS("Zero", macdZero, "#000000", 1, 3, 3),
      lineS("Signal", macdSignal, "#f0a800", 1.2, 3, 4),
      lineS("MACD", macdLine, "#0000d8", 1.4, 3, 5),
      pins("MACD sell", macdSellPins, 3, false),
      pins("MACD buy", macdBuyPins, 3, true),

      lineS("DI-", diMinus, "#f0a800", 1, 4, 3),
      lineS("DI+", diPlus, "#0a9e0a", 1, 4, 3),
      lineS("ADX", adxLine, "#0000d8", 1.4, 4, 5),
      pins("ADX sell", adxSellPins, 4, false),
      pins("ADX buy", adxBuyPins, 4, true),
    ],
    graphic: { elements: chromeElements() },
  };
}

export default function App() {
  const ref = useRef<HTMLDivElement>(null);
  useEffect(() => {
    document.body.style.margin = "0";
    const chart = echarts.init(ref.current!, undefined, { renderer: "svg", width: 1485, height: 815 });
    chart.setOption(buildOption() as any);
    return () => chart.dispose();
  }, []);
  return <div ref={ref} style={{ position: "absolute", left: 0, top: 0, width: 1485, height: 815 }} />;
}
